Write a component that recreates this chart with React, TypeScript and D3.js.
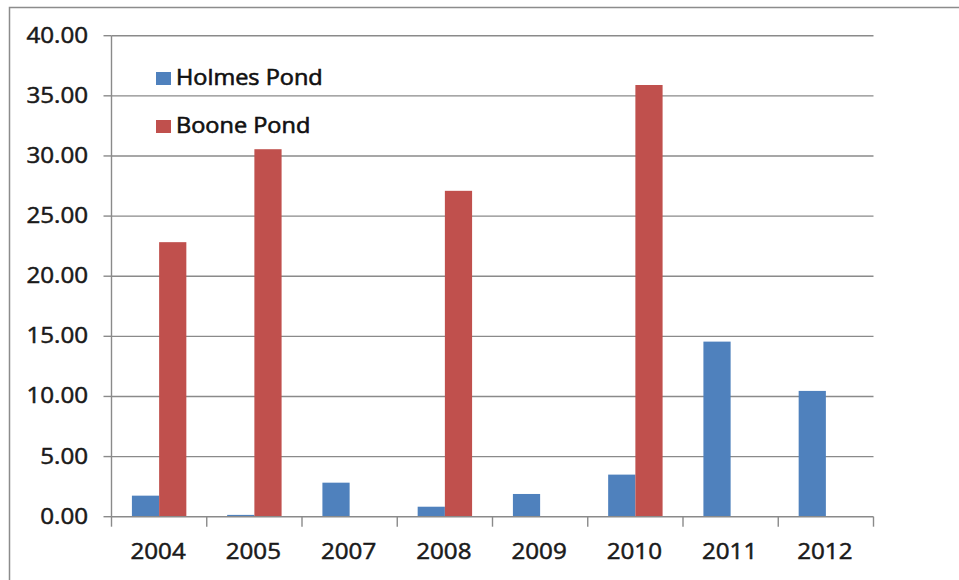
import React, { useEffect, useRef } from "react";
import * as d3 from "d3";

const years = ["2004", "2005", "2007", "2008", "2009", "2010", "2011", "2012"];
const holmesPond = [1.75, 0.15, 2.83, 0.83, 1.89, 3.5, 14.56, 10.46];
const boonePond = [22.83, 30.56, null, 27.1, null, 35.9, null, null];
const seriesNames = ["Holmes Pond", "Boone Pond"];
const seriesColors = ["#4F81BD", "#C0504D"];
const yTicks = [0, 5, 10, 15, 20, 25, 30, 35, 40];

const FONT = "'Open Sans', sans-serif";
const STRETCH = 1.15;

export default function App() {
  const ref = useRef<SVGSVGElement>(null);

  useEffect(() => {
    const svg = d3.select(ref.current);
    svg.selectAll("*").remove();

    const left = 111.5, right = 873.5, top = 35.7, bottom = 516.7;

    // outer frame of the chart area
    svg.append("path")
      .attr("d", "M9.5,580 L9.5,7.5 L959,7.5")
      .attr("fill", "none")
      .attr("stroke", "#8c8c8c")
      .attr("stroke-width", 1.5);

    const x0 = d3.scaleBand().domain(years).range([left, right]).padding(0);
    const x1 = d3.scaleBand().domain(seriesNames).range([0, x0.bandwidth()])
      .paddingInner(0).paddingOuter(0.75);
    const y = d3.scaleLinear().domain([0, 40]).range([bottom, top]);

    // gridlines + y ticks
    svg.append("g").selectAll("line").data(yTicks.filter(t => t > 0)).join("line")
      .attr("x1", left).attr("x2", right)
      .attr("y1", d => y(d)).attr("y2", d => y(d))
      .attr("stroke", "#8a8a8a").attr("stroke-width", 1.4);

    svg.append("g").selectAll("line").data(yTicks).join("line")
      .attr("x1", left - 8).attr("x2", left)
      .attr("y1", d => y(d)).attr("y2", d => y(d))
      .attr("stroke", "#8a8a8a").attr("stroke-width", 1.4);

    // bars
    const table = [holmesPond, boonePond];
    table.forEach((vals, si) => {
      svg.append("g").selectAll("rect")
        .data(years.map((yr, i) => ({ yr, v: vals[i] })).filter(d => d.v != null))
        .join("rect")
        .attr("x", d => (x0(d.yr) as number) + (x1(seriesNames[si]) as number))
        .attr("y", d => y(d.v as number))
        .attr("width", x1.bandwidth())
        .attr("height", d => bottom - y(d.v as number))
        .attr("fill", seriesColors[si]);
    });

    // axes lines
    svg.append("line")
      .attr("x1", left).attr("x2", left).attr("y1", top).attr("y2", bottom)
      .attr("stroke", "#8a8a8a").attr("stroke-width", 1.4);
    svg.append("line")
      .attr("x1", left).attr("x2", right).attr("y1", bottom).attr("y2", bottom)
      .attr("stroke", "#8a8a8a").attr("stroke-width", 1.4);

    // x tick marks at band boundaries
    const bounds = years.map(d => x0(d) as number).concat([right]);
    svg.append("g").selectAll("line").data(bounds).join("line")
      .attr("x1", d => d).attr("x2", d => d)
      .attr("y1", bottom).attr("y2", bottom + 10)
      .attr("stroke", "#8a8a8a").attr("stroke-width", 1.4);

    // y labels
    svg.append("g").selectAll("text").data(yTicks).join("text")
      .attr("transform", d => `translate(88,${y(d) + 7}) scale(${STRETCH},1)`)
      .attr("text-anchor", "end")
      .attr("font-family", FONT).attr("font-size", 21).attr("fill", "#1a1a1a")
      .attr("stroke", "#1a1a1a").attr("stroke-width", 0.5)
      .text(d => d.toFixed(2));

    // x labels
    svg.append("g").selectAll("text").data(years).join("text")
      .attr("transform", d => `translate(${(x0(d) as number) + x0.bandwidth() / 2 - 1},559) scale(${STRETCH},1)`)
      .attr("text-anchor", "middle")
      .attr("font-family", FONT).attr("font-size", 21).attr("fill", "#1a1a1a")
      .attr("stroke", "#1a1a1a").attr("stroke-width", 0.5)
      .text(d => d);

    // legend
    const legend = svg.append("g");
    seriesNames.forEach((name, i) => {
      const ly = 72 + i * 48;
      legend.append("rect")
        .attr("x", 156).attr("y", ly).attr("width", 15).attr("height", 13)
        .attr("fill", seriesColors[i]);
      legend.append("text")
        .attr("transform", `translate(176,${ly + 13}) scale(1.12,1)`)
        .attr("font-family", FONT).attr("font-size", 21).attr("fill", "#111")
        .attr("stroke", "#111").attr("stroke-width", 0.6)
        .text(name);
    });
  }, []);

  return (
    <svg ref={ref} width={959} height={580}
      style={{ position: "absolute", left: 0, top: 0, background: "#fff" }} />
  );
}
